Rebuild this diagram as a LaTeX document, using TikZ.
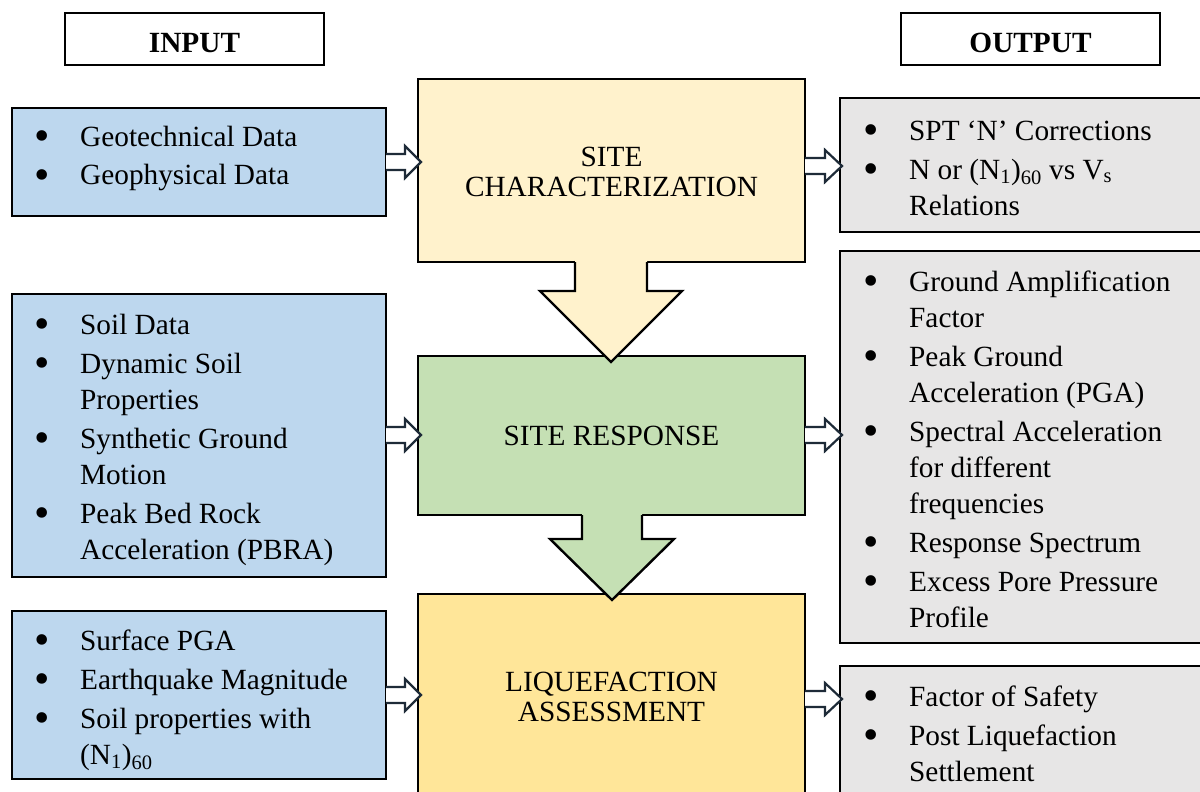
\documentclass[tikz,border=0pt]{standalone}
\usepackage{fontspec}
\setmainfont{Liberation Serif}
\definecolor{cblue}{HTML}{BDD7EE}
\definecolor{cgray}{HTML}{E7E6E6}
\definecolor{cyel}{HTML}{FFF2CC}
\definecolor{cgreen}{HTML}{C5E0B4}
\definecolor{cgold}{HTML}{FFE699}
\definecolor{arrowc}{HTML}{1E2B38}
\newcommand\bul{\makebox[45pt][l]{\hspace*{-1pt}\raisebox{-4.5pt}{\fontsize{44}{36}\selectfont\textbullet}}}
\newcommand\ind{\hspace*{45pt}}
\newcommand\listfont{\fontsize{29.3}{36}\selectfont}
\newcommand\ctrfont{\fontsize{29.3}{30}\selectfont}
\begin{document}
\begin{tikzpicture}[x=1pt,y=-1pt,
  box/.style={draw=black, line width=2.6pt, inner sep=0pt, outer sep=0pt},
  hdr/.style={draw=black, line width=2.2pt, inner sep=0pt, outer sep=0pt, fill=white},
  txt/.style={inner sep=0pt, anchor=base west, font=\listfont},
  ctxt/.style={inner sep=0pt, anchor=base, font=\ctrfont},
  barrow/.style={draw=arrowc, line width=2.2pt, fill=white, line join=miter},
  darrow/.style={draw=black, line width=2.4pt, line join=miter}]
\useasboundingbox (0,0) rectangle (1200,792);
\clip (0,0) rectangle (1200,792);

% header boxes
\node[hdr, minimum width=259pt, minimum height=52pt] (inbox) at (194.5,39) {};
\node[hdr, minimum width=259pt, minimum height=52pt] (outbox) at (1030.5,39) {};
\node[inner sep=0pt, anchor=base, font=\fontsize{29.3}{30}\selectfont\bfseries] (intxt) at (194.5,53) {INPUT};
\node[inner sep=0pt, anchor=base, font=\fontsize{29.3}{30}\selectfont\bfseries] (outtxt) at (1030.5,53) {OUTPUT};

% input boxes
\node[box, fill=cblue, minimum width=374pt, minimum height=108pt] (l1) at (199,162) {};
\node[box, fill=cblue, minimum width=374pt, minimum height=283pt] (l2) at (199,435.5) {};
\node[box, fill=cblue, minimum width=374pt, minimum height=168pt] (l3) at (199,695) {};

% process boxes
\node[box, fill=cyel, minimum width=387pt, minimum height=183pt] (sc) at (611.5,170.5) {};
\node[box, fill=cgreen, minimum width=387pt, minimum height=159pt] (sr) at (611.5,435.5) {};
\node[box, fill=cgold, minimum width=387pt, minimum height=216pt] (la) at (611.5,702) {};

% output boxes
\node[box, fill=cgray, minimum width=375pt, minimum height=134pt] (r1) at (1027.5,165) {};
\node[box, fill=cgray, minimum width=375pt, minimum height=392pt] (r2) at (1027.5,447) {};
\node[box, fill=cgray, minimum width=375pt, minimum height=144pt] (r3) at (1027.5,738) {};

% down arrows
\fill[cyel] (575,259.4) -- (575,291) -- (540,291) -- (611,362) -- (682,291) -- (647,291) -- (647,259.4) -- cycle;
\draw[darrow] (575,262) -- (575,291) -- (540,291) -- (611,362) -- (682,291) -- (647,291) -- (647,262);
\fill[cgreen] (582,512.4) -- (582,539) -- (550,539) -- (612,600) -- (674,539) -- (642,539) -- (642,512.4) -- cycle;
\draw[darrow] (582,515) -- (582,539) -- (550,539) -- (612,600) -- (674,539) -- (642,539) -- (642,515);

% small block arrows input -> process
\filldraw[barrow] (386,154) -- (405,154) -- (405,146) -- (421,162) -- (405,178) -- (405,170) -- (386,170);
\filldraw[barrow] (386,427) -- (405,427) -- (405,419) -- (421,435) -- (405,451) -- (405,443) -- (386,443);
\filldraw[barrow] (386,687) -- (405,687) -- (405,679) -- (421,695) -- (405,711) -- (405,703) -- (386,703);
% process -> output
\filldraw[barrow] (805,158) -- (825,158) -- (825,150) -- (842,166) -- (825,182) -- (825,174) -- (805,174);
\filldraw[barrow] (805,427) -- (825,427) -- (825,419) -- (842,435) -- (825,451) -- (825,443) -- (805,443);
\filldraw[barrow] (805,691) -- (825,691) -- (825,683) -- (842,699) -- (825,715) -- (825,707) -- (805,707);

% centre texts
\node[ctxt] (sctxt) at (611.5,166) {\begin{tabular}[t]{@{}c@{}}SITE\\CHARACTERIZATION\end{tabular}};
\node[ctxt] (srtxt) at (611.5,445) {SITE RESPONSE};
\node[ctxt] (latxt) at (611.5,691) {\begin{tabular}[t]{@{}c@{}}LIQUEFACTION\\ASSESSMENT\end{tabular}};

% input lists
\node[txt] (l1txt) at (35,146) {\begin{tabular}[t]{@{}l@{}}
\bul Geotechnical Data\\[3pt]
\bul Geophysical Data
\end{tabular}};
\node[txt] (l2txt) at (35,334) {\begin{tabular}[t]{@{}l@{}}
\bul Soil Data\\[3pt]
\bul Dynamic Soil\\
\ind Properties\\[3pt]
\bul Synthetic Ground\\
\ind Motion\\[3pt]
\bul Peak Bed Rock\\
\ind Acceleration (PBRA)
\end{tabular}};
\node[txt] (l3txt) at (35,650) {\begin{tabular}[t]{@{}l@{}}
\bul Surface PGA\\[3pt]
\bul Earthquake Magnitude\\[3pt]
\bul Soil properties with\\
\ind (N\textsubscript{1})\textsubscript{60}
\end{tabular}};

% output lists
\node[txt] (r1txt) at (864,140) {\begin{tabular}[t]{@{}l@{}}
\bul SPT ‘N’ Corrections\\[3pt]
\bul N or (N\textsubscript{1})\textsubscript{60} vs V\textsubscript{s}\\
\ind Relations
\end{tabular}};
\node[txt] (r2txt) at (864,291) {\begin{tabular}[t]{@{}l@{}}
\bul Ground Amplification\\
\ind Factor\\[3pt]
\bul Peak Ground\\
\ind Acceleration (PGA)\\[3pt]
\bul Spectral Acceleration\\
\ind for different\\
\ind frequencies\\[3pt]
\bul Response Spectrum\\[3pt]
\bul Excess Pore Pressure\\
\ind Profile
\end{tabular}};
\node[txt] (r3txt) at (864,706) {\begin{tabular}[t]{@{}l@{}}
\bul Factor of Safety\\[3pt]
\bul Post Liquefaction\\
\ind Settlement
\end{tabular}};
\end{tikzpicture}
\end{document}
